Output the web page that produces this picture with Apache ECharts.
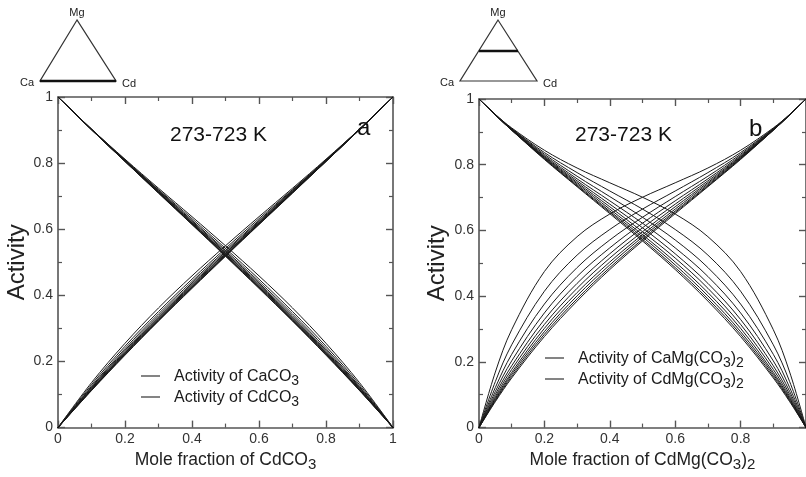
<!DOCTYPE html>
<html>
<head>
<meta charset="utf-8">
<script src="https://cdn.jsdelivr.net/npm/echarts@6/dist/echarts.min.js"></script>
<style>
html, body { margin: 0; padding: 0; background: #fff; }
#chart { width: 806px; height: 477px; }
</style>
</head>
<body>
<div id="chart"></div>
<script>
// temperatures of the curves, 273-723 K
var temps = [273, 323, 373, 423, 473, 523, 573, 623, 673, 723];

// panel a: CaCO3 - CdCO3, x = mole fraction of CdCO3
var xA = [0, 0.1, 0.2, 0.3, 0.4, 0.5, 0.6, 0.7, 0.8, 0.9, 1];
var cdCO3 = [
    [0, 0.136, 0.255, 0.362, 0.459, 0.550, 0.638, 0.724, 0.812, 0.903, 1],
    [0, 0.130, 0.246, 0.351, 0.449, 0.542, 0.632, 0.720, 0.810, 0.903, 1],
    [0, 0.125, 0.239, 0.344, 0.442, 0.536, 0.627, 0.718, 0.809, 0.903, 1],
    [0, 0.122, 0.234, 0.338, 0.437, 0.532, 0.624, 0.716, 0.808, 0.902, 1],
    [0, 0.120, 0.230, 0.334, 0.433, 0.528, 0.621, 0.714, 0.807, 0.902, 1],
    [0, 0.117, 0.227, 0.331, 0.430, 0.526, 0.619, 0.713, 0.807, 0.902, 1],
    [0, 0.116, 0.225, 0.328, 0.427, 0.523, 0.618, 0.712, 0.806, 0.901, 1],
    [0, 0.114, 0.223, 0.326, 0.425, 0.521, 0.616, 0.711, 0.805, 0.901, 1],
    [0, 0.113, 0.221, 0.324, 0.423, 0.520, 0.615, 0.710, 0.805, 0.901, 1],
    [0, 0.112, 0.219, 0.322, 0.421, 0.518, 0.614, 0.709, 0.805, 0.901, 1]
];
var caCO3 = [
    [1, 0.903, 0.812, 0.724, 0.638, 0.550, 0.459, 0.362, 0.255, 0.136, 0],
    [1, 0.903, 0.810, 0.720, 0.632, 0.542, 0.449, 0.351, 0.246, 0.130, 0],
    [1, 0.903, 0.809, 0.718, 0.627, 0.536, 0.442, 0.344, 0.239, 0.125, 0],
    [1, 0.902, 0.808, 0.716, 0.624, 0.532, 0.437, 0.338, 0.234, 0.122, 0],
    [1, 0.902, 0.807, 0.714, 0.621, 0.528, 0.433, 0.334, 0.230, 0.120, 0],
    [1, 0.902, 0.807, 0.713, 0.619, 0.526, 0.430, 0.331, 0.227, 0.117, 0],
    [1, 0.901, 0.806, 0.712, 0.618, 0.523, 0.427, 0.328, 0.225, 0.116, 0],
    [1, 0.901, 0.805, 0.711, 0.616, 0.521, 0.425, 0.326, 0.223, 0.114, 0],
    [1, 0.901, 0.805, 0.710, 0.615, 0.520, 0.423, 0.324, 0.221, 0.113, 0],
    [1, 0.901, 0.805, 0.709, 0.614, 0.518, 0.421, 0.322, 0.219, 0.112, 0]
];

// panel b: CaMg(CO3)2 - CdMg(CO3)2, x = mole fraction of CdMg(CO3)2
var xB = [0, 0.05, 0.1, 0.2, 0.3, 0.4, 0.5, 0.6, 0.7, 0.8, 0.9, 0.95, 1];
var cdMg = [
    [0, 0.169, 0.298, 0.475, 0.581, 0.650, 0.701, 0.745, 0.790, 0.844, 0.912, 0.953, 1],
    [0, 0.140, 0.252, 0.415, 0.525, 0.603, 0.665, 0.720, 0.776, 0.837, 0.910, 0.953, 1],
    [0, 0.122, 0.223, 0.376, 0.487, 0.571, 0.640, 0.703, 0.765, 0.832, 0.909, 0.952, 1],
    [0, 0.110, 0.203, 0.349, 0.460, 0.547, 0.622, 0.690, 0.757, 0.828, 0.908, 0.952, 1],
    [0, 0.101, 0.188, 0.329, 0.439, 0.529, 0.608, 0.680, 0.751, 0.825, 0.907, 0.952, 1],
    [0, 0.094, 0.177, 0.314, 0.424, 0.516, 0.596, 0.672, 0.746, 0.823, 0.906, 0.952, 1],
    [0, 0.089, 0.168, 0.302, 0.411, 0.504, 0.587, 0.665, 0.742, 0.821, 0.906, 0.952, 1],
    [0, 0.085, 0.162, 0.292, 0.401, 0.495, 0.580, 0.659, 0.738, 0.819, 0.905, 0.951, 1],
    [0, 0.082, 0.156, 0.284, 0.392, 0.487, 0.573, 0.655, 0.735, 0.818, 0.905, 0.951, 1],
    [0, 0.079, 0.151, 0.277, 0.385, 0.481, 0.568, 0.651, 0.733, 0.816, 0.905, 0.951, 1]
];
var caMg = [
    [1, 0.953, 0.912, 0.844, 0.790, 0.745, 0.701, 0.650, 0.581, 0.475, 0.298, 0.169, 0],
    [1, 0.953, 0.910, 0.837, 0.776, 0.720, 0.665, 0.603, 0.525, 0.415, 0.252, 0.140, 0],
    [1, 0.952, 0.909, 0.832, 0.765, 0.703, 0.640, 0.571, 0.487, 0.376, 0.223, 0.122, 0],
    [1, 0.952, 0.908, 0.828, 0.757, 0.690, 0.622, 0.547, 0.460, 0.349, 0.203, 0.110, 0],
    [1, 0.952, 0.907, 0.825, 0.751, 0.680, 0.608, 0.529, 0.439, 0.329, 0.188, 0.101, 0],
    [1, 0.952, 0.906, 0.823, 0.746, 0.672, 0.596, 0.516, 0.424, 0.314, 0.177, 0.094, 0],
    [1, 0.952, 0.906, 0.821, 0.742, 0.665, 0.587, 0.504, 0.411, 0.302, 0.168, 0.089, 0],
    [1, 0.951, 0.905, 0.819, 0.738, 0.659, 0.580, 0.495, 0.401, 0.292, 0.162, 0.085, 0],
    [1, 0.951, 0.905, 0.818, 0.735, 0.655, 0.573, 0.487, 0.392, 0.284, 0.156, 0.082, 0],
    [1, 0.951, 0.905, 0.816, 0.733, 0.651, 0.568, 0.481, 0.385, 0.277, 0.151, 0.079, 0]
];

var FONT = 'Liberation Sans, Arial, Helvetica, sans-serif';
var AXIS_COLOR = '#555';
var LINE_COLOR = '#1a1a1a';

var chart = echarts.init(document.getElementById('chart'));

function pairs(xs, ys) {
    return xs.map(function (x, i) { return [x, ys[i]]; });
}

// one side of the frame; labels only on bottom / left
function frameAxis(grid, pos, withLabels, name, nameGap, extra) {
    var ax = {
        type: 'value',
        gridIndex: grid,
        position: pos,
        min: 0,
        max: 1,
        interval: 0.2,
        splitLine: { show: false },
        axisLine: { onZero: false, lineStyle: { color: AXIS_COLOR, width: 1.6 } },
        axisTick: { inside: true, length: 7, lineStyle: { color: AXIS_COLOR, width: 1.4 } },
        minorTick: { show: true, splitNumber: 2, length: 4, lineStyle: { color: AXIS_COLOR, width: 1.2 } },
        axisLabel: { show: withLabels, color: '#333', fontFamily: FONT, fontSize: 14, margin: 5 }
    };
    if (name) {
        ax.name = name;
        ax.nameLocation = 'middle';
        ax.nameGap = nameGap;
        ax.nameTextStyle = {
            color: '#222', fontFamily: FONT, fontSize: 17.5, verticalAlign: 'top',
            rich: { s: { fontFamily: FONT, fontSize: 15, color: '#222', verticalAlign: 'top', padding: [8, 0, 0, 0] } }
        };
    }
    return Object.assign(ax, extra || {});
}

var yName = {
    nameRotate: 90,
    nameTextStyle: { color: '#222', fontFamily: FONT, fontSize: 24 }
};

var series = [];
temps.forEach(function (t, i) {
    [[cdCO3, xA, 0], [caCO3, xA, 0], [cdMg, xB, 2], [caMg, xB, 2]].forEach(function (d) {
        series.push({
            name: t + ' K',
            type: 'line',
            xAxisIndex: d[2],
            yAxisIndex: d[2],
            data: pairs(d[1], d[0][i]),
            smooth: 0.35,
            showSymbol: false,
            silent: true,
            lineStyle: { color: LINE_COLOR, width: 1 }
        });
    });
});

// legend entries, ternary sketches and labels
function legendRow(x, y, label) {
    return [
        { type: 'line', shape: { x1: x, y1: y, x2: x + 19, y2: y }, style: { stroke: '#333', lineWidth: 1.2 } },
        { type: 'text', x: x + 33, y: y - 10, style: {
            text: label, fill: '#1a1a1a', font: '16px ' + FONT,
            rich: { s: { fontFamily: FONT, fontSize: 14, fill: '#1a1a1a', verticalAlign: 'top', padding: [8, 0, 0, 0] } }
        } }
    ];
}

function triangle(apexX, apexY, leftX, rightX, baseY, thick) {
    var els = [
        { type: 'polygon', shape: { points: [[apexX, apexY], [leftX, baseY], [rightX, baseY]] },
          style: { fill: 'none', stroke: '#333', lineWidth: 1.2 } },
        { type: 'line', shape: thick, style: { stroke: '#111', lineWidth: 2.6 } },
        { type: 'text', x: apexX, y: apexY - 7, style: { text: 'Mg', fill: '#222', font: '11px ' + FONT, align: 'center', verticalAlign: 'middle' } },
        { type: 'text', x: leftX - 13, y: baseY + 2, style: { text: 'Ca', fill: '#222', font: '11px ' + FONT, align: 'center', verticalAlign: 'middle' } },
        { type: 'text', x: rightX + 13, y: baseY + 3, style: { text: 'Cd', fill: '#222', font: '11px ' + FONT, align: 'center', verticalAlign: 'middle' } }
    ];
    return els;
}

var graphics = []
    .concat(triangle(77, 20, 40, 116, 81, { x1: 40, y1: 81, x2: 116, y2: 81 }))
    .concat(triangle(498, 20, 460, 537, 81, { x1: 479, y1: 51, x2: 518, y2: 51 }))
    .concat(legendRow(141, 376, 'Activity of CaCO{s|3}'))
    .concat(legendRow(141, 397, 'Activity of CdCO{s|3}'))
    .concat(legendRow(545, 358, 'Activity of CaMg(CO{s|3}){s|2}'))
    .concat(legendRow(545, 379, 'Activity of CdMg(CO{s|3}){s|2}'))
    .concat([
        { type: 'text', x: 170, y: 135, style: { text: '273-723 K', fill: '#111', font: '21px ' + FONT, verticalAlign: 'middle' } },
        { type: 'text', x: 575, y: 135, style: { text: '273-723 K', fill: '#111', font: '21px ' + FONT, verticalAlign: 'middle' } },
        { type: 'text', x: 357, y: 128, style: { text: 'a', fill: '#111', font: '24px ' + FONT, verticalAlign: 'middle' } },
        { type: 'text', x: 749, y: 129, style: { text: 'b', fill: '#111', font: '24px ' + FONT, verticalAlign: 'middle' } }
    ]);

var option = {
    animation: false,
    backgroundColor: '#fff',
    grid: [
        { left: 58, top: 97, width: 335, height: 336 },
        { left: 479, top: 99, width: 328, height: 333 }
    ],
    xAxis: [
        frameAxis(0, 'bottom', true, 'Mole fraction of CdCO{s|3}', 21),
        frameAxis(0, 'top', false),
        frameAxis(1, 'bottom', true, 'Mole fraction of CdMg(CO{s|3}){s|2}', 14,
            { axisLabel: { show: true, color: '#333', fontFamily: FONT, fontSize: 14, margin: 5, showMaxLabel: false } }),
        frameAxis(1, 'top', false)
    ],
    yAxis: [
        frameAxis(0, 'left', true, 'Activity', 28, yName),
        frameAxis(0, 'right', false),
        frameAxis(1, 'left', true, 'Activity', 30, yName),
        frameAxis(1, 'right', false)
    ],
    series: series,
    graphic: graphics
};

chart.setOption(option);
</script>
</body>
</html>
